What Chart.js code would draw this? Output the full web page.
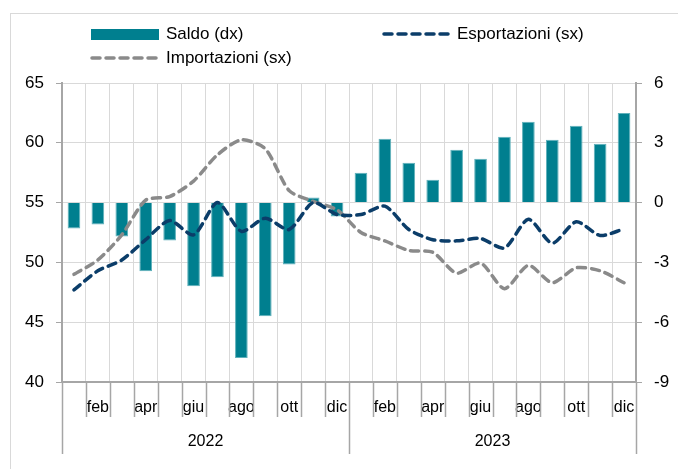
<!DOCTYPE html>
<html lang="it">
<head>
<meta charset="utf-8">
<script src="https://cdn.jsdelivr.net/npm/chart.js@4.4.1/dist/chart.umd.min.js"></script>
<style>
  body { margin: 0; background: #fff; font-family: "Liberation Sans", Arial, sans-serif; }
  #wrap { position: relative; width: 678px; height: 469px; overflow: hidden; }
  #cornice { position: absolute; left: 10px; top: 13px; right: -2px; bottom: -2px; border-top: 1px solid #d9d9d9; border-left: 1px solid #d9d9d9; }
  canvas { position: absolute; left: 0; top: 0; }
  .voce { position: absolute; font-size: 17px; line-height: 20px; color: #000; white-space: nowrap; }
  .segno { position: absolute; }
</style>
</head>
<body>
<div id="wrap">
  <div id="cornice"></div>
  <canvas id="grafico" width="678" height="469"></canvas>
  <div class="segno" style="left:91px;top:29px;width:68px;height:11px;background:#007f8f"></div>
  <div class="voce" style="left:166px;top:24px">Saldo (dx)</div>
  <svg class="segno" style="left:382px;top:29px" width="72" height="10"><line x1="2" y1="5" x2="70" y2="5" stroke="#0b3d69" stroke-width="3.5" stroke-dasharray="8 6" stroke-linecap="round"/></svg>
  <div class="voce" style="left:457px;top:24px">Esportazioni (sx)</div>
  <svg class="segno" style="left:90px;top:53px" width="72" height="10"><line x1="2" y1="5" x2="70" y2="5" stroke="#8a8a8a" stroke-width="3.5" stroke-dasharray="8 6" stroke-linecap="round"/></svg>
  <div class="voce" style="left:166px;top:48px">Importazioni (sx)</div>
</div>
<script>
// Dati del grafico
const mesi = ['gen', 'feb', 'mar', 'apr', 'mag', 'giu', 'lug', 'ago', 'set', 'ott', 'nov', 'dic'];
const anni = ['2022', '2023'];
const etichette = anni.flatMap(a => mesi.map(m => m + ' ' + a));

const saldo = [-1.3, -1.1, -1.7, -3.45, -1.9, -4.2, -3.75, -7.8, -5.7, -3.1, 0.25, -0.7,
               1.5, 3.2, 2.0, 1.15, 2.65, 2.2, 3.3, 4.05, 3.15, 3.85, 2.95, 4.5];
const esportazioni = [47.7, 49.3, 50.2, 51.9, 53.5, 52.3, 55.0, 52.6, 53.7, 52.75, 55.0, 54.0,
                      54.0, 54.7, 52.75, 51.9, 51.8, 52.0, 51.2, 53.6, 51.6, 53.4, 52.25, 52.8];
const importazioni = [49.0, 50.2, 52.3, 55.2, 55.5, 56.8, 59.0, 60.25, 59.5, 56.0, 55.1, 54.4,
                      52.5, 51.8, 51.0, 50.85, 49.1, 49.95, 47.8, 49.75, 48.3, 49.55, 49.3, 48.3];

const grigioAsse = '#a6a6a6';
const grigioGriglia = '#d9d9d9';
const font = { family: '"Liberation Sans", Arial, sans-serif', size: 16 };

// Linee di tacca sotto l'asse x e etichette degli anni
const assePeriodi = {
  id: 'assePeriodi',
  afterDraw(chart) {
    const x = chart.scales.x;
    const ctx = chart.ctx;
    const base = chart.chartArea.bottom;
    ctx.save();
    ctx.strokeStyle = grigioAsse;
    ctx.lineWidth = 1.5;
    for (let i = 0; i <= etichette.length; i++) {
      const px = Math.round(x.getPixelForValue(i - 0.5)) + 0.5;
      const lungo = i % mesi.length === 0;
      ctx.beginPath();
      ctx.moveTo(px, base);
      ctx.lineTo(px, base + (lungo ? 72 : 35));
      ctx.stroke();
    }
    ctx.fillStyle = '#000';
    ctx.font = '16px "Liberation Sans", Arial, sans-serif';
    ctx.textAlign = 'center';
    ctx.textBaseline = 'middle';
    anni.forEach((a, k) => {
      const centro = x.getPixelForValue(k * mesi.length + (mesi.length - 1) / 2);
      ctx.fillText(a, centro, base + 60);
    });
    ctx.restore();
  }
};

const ctx = document.getElementById('grafico').getContext('2d');
new Chart(ctx, {
  type: 'bar',
  data: {
    labels: etichette,
    datasets: [
      {
        type: 'line',
        label: 'Esportazioni (sx)',
        data: esportazioni,
        yAxisID: 'y',
        borderColor: '#0b3d69',
        borderWidth: 3.5,
        borderDash: [8, 6],
        borderCapStyle: 'round',
        pointRadius: 0,
        tension: 0.25,
        order: 0
      },
      {
        type: 'line',
        label: 'Importazioni (sx)',
        data: importazioni,
        yAxisID: 'y',
        borderColor: '#8a8a8a',
        borderWidth: 3.5,
        borderDash: [8, 6],
        borderCapStyle: 'round',
        pointRadius: 0,
        tension: 0.25,
        order: 1
      },
      {
        label: 'Saldo (dx)',
        data: saldo,
        yAxisID: 'y2',
        backgroundColor: '#007f8f',
        borderColor: '#5fb1bb',
        borderWidth: 1,
        barPercentage: 0.53,
        categoryPercentage: 1,
        order: 2
      }
    ]
  },
  options: {
    responsive: false,
    animation: false,
    layout: { padding: { top: 83, left: 0, right: 0, bottom: 0 } },
    plugins: {
      legend: { display: false },
      tooltip: { enabled: false }
    },
    scales: {
      x: {
        offset: true,
        grid: { offset: true, color: grigioGriglia, lineWidth: 1, drawTicks: false },
        border: { color: grigioAsse, width: 2 },
        ticks: {
          autoSkip: false,
          maxRotation: 0,
          padding: 16,
          color: '#000',
          font: font,
          callback: (v, i) => (i % 2 === 1 ? mesi[i % mesi.length] : '')
        },
        afterFit: s => { s.height = 87; }
      },
      y: {
        position: 'left',
        min: 40,
        max: 65,
        ticks: { stepSize: 5, color: '#000', font: { ...font, size: 17 }, padding: 12 },
        grid: { color: grigioGriglia, tickColor: grigioAsse, tickLength: 6 },
        border: { color: grigioAsse, width: 2 },
        afterFit: s => { s.width = 62; }
      },
      y2: {
        position: 'right',
        min: -9,
        max: 6,
        ticks: { stepSize: 3, color: '#000', font: { ...font, size: 17 }, padding: 12 },
        grid: { drawOnChartArea: false, tickColor: grigioAsse, tickLength: 6 },
        border: { color: grigioAsse, width: 2 },
        afterFit: s => { s.width = 42; }
      }
    }
  },
  plugins: [assePeriodi]
});
</script>
</body>
</html>
